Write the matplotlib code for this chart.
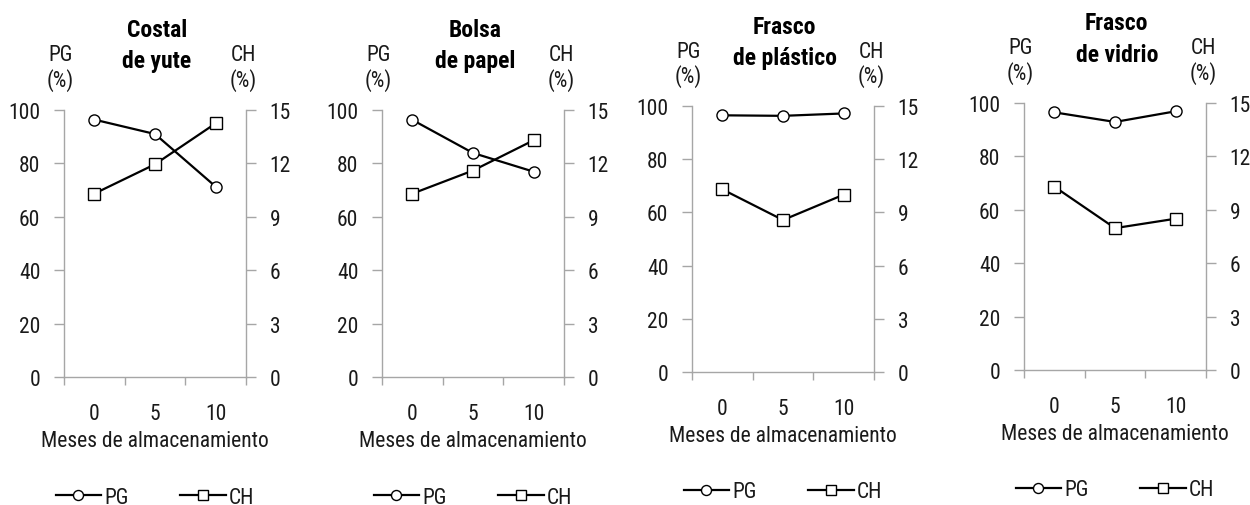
import numpy as np
import matplotlib
matplotlib.use('Agg')
import matplotlib.pyplot as plt

plt.rcParams['font.family'] = ['Roboto Condensed', 'Liberation Sans', 'DejaVu Sans']

# meses de almacenamiento
meses = ['0', '5', '10']
envases = ['Costal\nde yute', 'Bolsa\nde papel', 'Frasco\nde plástico', 'Frasco\nde vidrio']

# PG (%) y CH (%) por envase
pg_costal = [96.4, 91.0, 71.3]
ch_costal = [10.3, 11.95, 14.25]
pg_bolsa = [96.3, 83.9, 76.9]
ch_bolsa = [10.3, 11.6, 13.3]
pg_plastico = [96.5, 96.3, 97.2]
ch_plastico = [10.3, 8.57, 10.0]
pg_vidrio = [96.5, 92.9, 96.9]
ch_vidrio = [10.3, 7.97, 8.5]

pg = [pg_costal, pg_bolsa, pg_plastico, pg_vidrio]
ch = [ch_costal, ch_bolsa, ch_plastico, ch_vidrio]

W, H = 1250, 506
# cajas en pixeles: izquierda, derecha, arriba, abajo
cajas = [(64, 246, 111, 378), (382, 564, 111, 378),
         (692, 874, 107, 373), (1024, 1206, 104, 371)]

gris = '#a6a6a6'
texto = '#1a1a1a'
fs = 15.5

fig = plt.figure(figsize=(W/100, H/100), dpi=100)

for i in range(4):
    l, r, t, b = cajas[i]
    alto = b - t
    ax = fig.add_axes([l/W, 1-b/H, (r-l)/W, alto/H])
    ax2 = ax.twinx()
    x = np.arange(len(meses))

    lp, = ax.plot(x, pg[i], color='black', lw=1.6, marker='o', ms=8,
                  mfc='white', mec='black', mew=1.0, label='PG', zorder=3)
    lc, = ax2.plot(x, ch[i], color='black', lw=1.6, marker='s', ms=8,
                   mfc='white', mec='black', mew=1.0, label='CH', zorder=3)

    ax.set_xlim(-0.5, 2.5)
    ax.set_ylim(0, 100)
    ax2.set_ylim(0, 15)
    ax.set_yticks(np.arange(0, 101, 20))
    ax2.set_yticks(np.arange(0, 16, 3))

    ax.set_xticks([-0.5, 0.5, 1.5, 2.5])
    ax.set_xticklabels([])
    ax.set_xticks(x, minor=True)
    ax.set_xticklabels(meses, minor=True)
    ax.tick_params(axis='x', which='major', direction='out', length=6, color=gris, width=1)
    ax.tick_params(axis='x', which='minor', length=0, pad=19, labelsize=fs, labelcolor=texto)
    ax.tick_params(axis='y', direction='out', length=7, color=gris, width=1, pad=10,
                   labelsize=fs, labelcolor=texto)
    ax2.tick_params(axis='y', direction='out', length=7, color=gris, width=1, pad=10,
                    labelsize=fs, labelcolor=texto)

    for a in (ax, ax2):
        a.spines['top'].set_visible(False)
        for s in a.spines.values():
            s.set_color(gris)
            s.set_linewidth(1)
    ax2.spines['left'].set_visible(False)
    ax2.spines['bottom'].set_visible(False)
    ax.spines['right'].set_visible(False)

    ax.set_xlabel('Meses de almacenamiento', fontsize=fs, color=texto, labelpad=4)

    # titulo en dos lineas
    linea1, linea2 = envases[i].split('\n')
    ax.text(0.51, 1 + 80/alto, linea1, transform=ax.transAxes, ha='center', va='center',
            fontsize=17, fontweight='bold', color='black')
    ax.text(0.51, 1 + 49/alto, linea2, transform=ax.transAxes, ha='center', va='center',
            fontsize=17, fontweight='bold', color='black')

    ax.text(-0.02, 1 + 55/alto, 'PG', transform=ax.transAxes, ha='center', va='center',
            fontsize=fs, color=texto)
    ax.text(-0.02, 1 + 30/alto, '(%)', transform=ax.transAxes, ha='center', va='center',
            fontsize=fs, color=texto)
    ax.text(0.985, 1 + 55/alto, 'CH', transform=ax.transAxes, ha='center', va='center',
            fontsize=fs, color=texto)
    ax.text(0.985, 1 + 30/alto, '(%)', transform=ax.transAxes, ha='center', va='center',
            fontsize=fs, color=texto)

    leg = ax.legend([lp, lc], ['PG', 'CH'], loc='center', bbox_to_anchor=(0.5, -120/alto),
                    ncol=2, frameon=False, fontsize=fs, handlelength=2.1,
                    handletextpad=0.15, columnspacing=2.4, markerscale=0.9)
    for tx in leg.get_texts():
        tx.set_color(texto)

fig.savefig('out.png', dpi=100)
